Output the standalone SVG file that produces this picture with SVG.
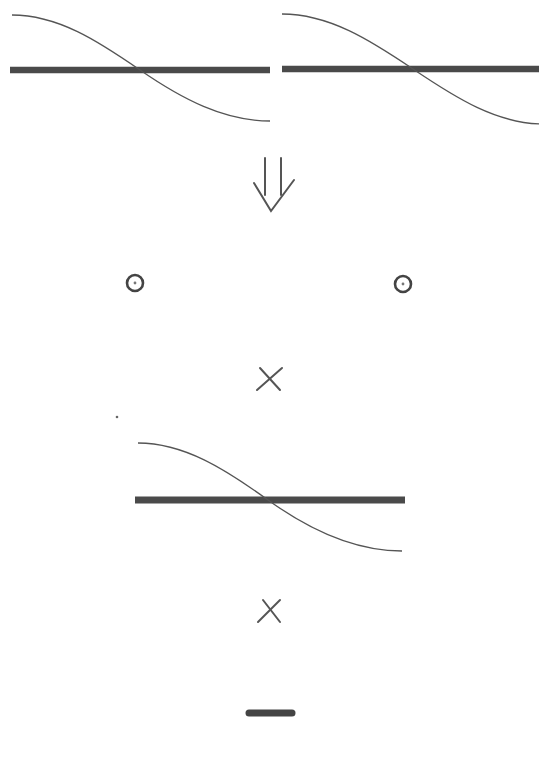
<svg xmlns="http://www.w3.org/2000/svg" width="539" height="757" viewBox="0 0 539 757">
<style>
.bar{stroke:#4a4a4a;stroke-width:6.5;stroke-linecap:butt;fill:none}
.curve{stroke:#555;stroke-width:1.3;fill:none}
.sym{stroke:#555;stroke-width:2;fill:none;stroke-linecap:round}
</style>
<rect width="539" height="757" fill="#fff"/>
<g id="panel-left">
<line class="bar" x1="10" y1="70" x2="270" y2="70"/>
<path class="curve" d="M12,15 C58,15 98,41 140,70 S224,121 270,121"/>
</g>
<g id="panel-right">
<line class="bar" x1="282" y1="69" x2="539" y2="69"/>
<path class="curve" d="M282,14 C329,14 370,40 413,69 S497,124 544,124"/>
</g>
<g id="arrow">
<line class="sym" x1="265" y1="158" x2="265" y2="195"/>
<line class="sym" x1="281" y1="158" x2="281" y2="195"/>
<polyline class="sym" points="254,183 271,211 294,180"/>
</g>
<g id="dot-left">
<circle cx="135" cy="283" r="8" stroke="#444" stroke-width="2.6" fill="none"/>
<circle cx="135" cy="283" r="1.4" fill="#777"/>
</g>
<g id="dot-right">
<circle cx="403" cy="284" r="8" stroke="#444" stroke-width="2.6" fill="none"/>
<circle cx="403" cy="284" r="1.4" fill="#777"/>
</g>
<g id="cross-1">
<line class="sym" x1="257" y1="390" x2="282" y2="368"/>
<line class="sym" x1="260" y1="368" x2="280" y2="390"/>
</g>
<circle cx="117" cy="417" r="1.3" fill="#666"/>
<g id="panel-middle">
<line class="bar" x1="135" y1="500" x2="405" y2="500" style="stroke-width:7"/>
<path class="curve" d="M138,443 C184,443 225,469 268,500 S356,551 402,551"/>
</g>
<g id="cross-2">
<line class="sym" x1="258" y1="622" x2="280" y2="600"/>
<line class="sym" x1="263" y1="600" x2="280" y2="622"/>
</g>
<g id="dash">
<line x1="249" y1="713" x2="292" y2="713" stroke="#444" stroke-width="7" stroke-linecap="round"/>
</g>
</svg>
